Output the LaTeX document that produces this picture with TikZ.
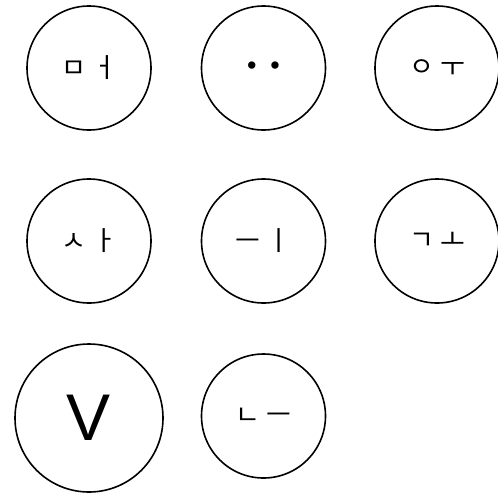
\documentclass[tikz,border=0pt]{standalone}
\usepackage{fontspec}
\setmainfont{Liberation Sans}
\newfontfamily\kr{Noto Sans CJK KR}
\begin{document}
\begin{tikzpicture}[x=1pt,y=-1pt,
  bub/.style={circle,draw,line width=1.6pt,minimum size=124pt,inner sep=0pt,font=\kr\fontsize{27}{27}\selectfont},
  bigbub/.style={circle,draw,line width=1.6pt,minimum size=148pt,inner sep=0pt,font=\fontsize{66}{66}\selectfont}]
\useasboundingbox (0,0) rectangle (498,496);
\node[bub] (c1) at (89,68) {ㅁ ㅓ};
\node[bub,font=\fontsize{27}{27}\selectfont] (c2) at (263.5,68) {•\hspace{14pt}•};
\node[bub] (c3) at (437,68) {ㅇ ㅜ};
\node[bub] (c4) at (89,241) {ㅅ ㅏ};
\node[bub] (c5) at (263.5,241) {ㅡ ㅣ};
\node[bub] (c6) at (437,241) {ㄱ ㅗ};
\node[bigbub] (c7) at (89,418) {V};
\node[bub] (c8) at (263.5,416) {ㄴ ㅡ};
\end{tikzpicture}
\end{document}
